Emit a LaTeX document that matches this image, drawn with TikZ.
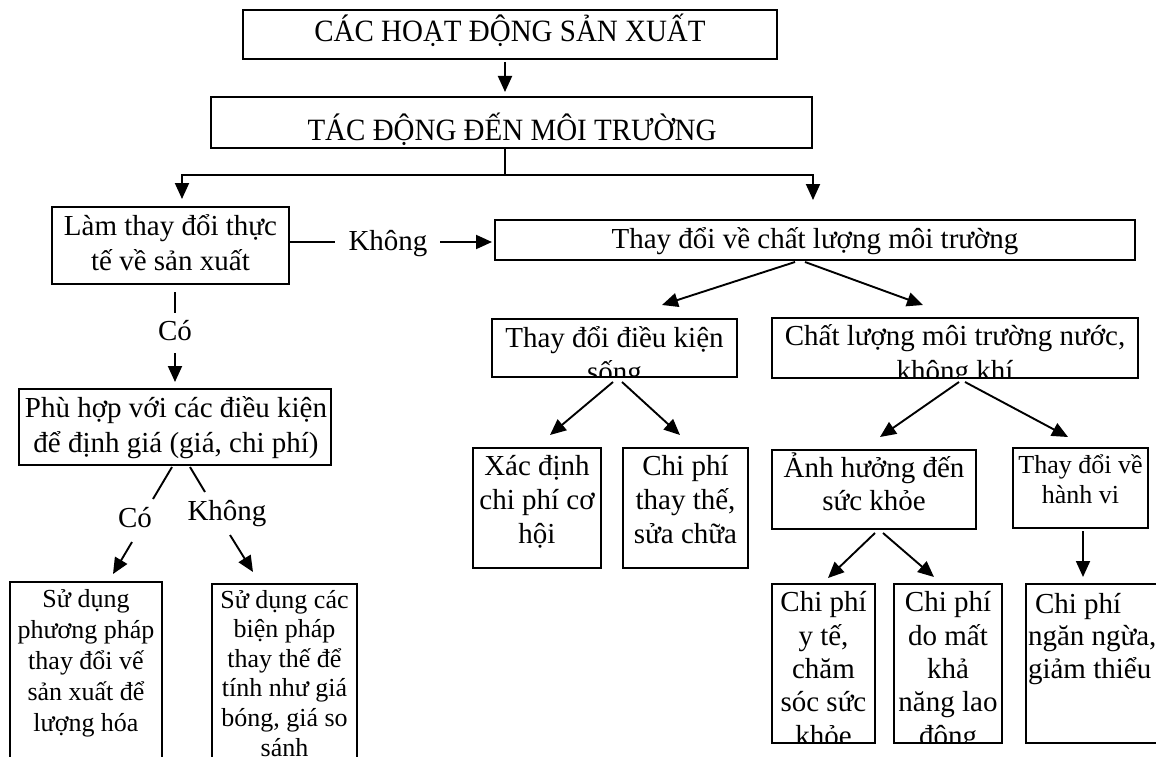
\documentclass[tikz,border=0pt]{standalone}
\usepackage{fontspec}
\usepackage{graphicx}
\setmainfont{Liberation Serif}
\usetikzlibrary{arrows.meta,calc}
\newcommand\fs[2]{\fontsize{#1}{#2}\selectfont}
\tikzset{
  bx/.style={draw, line width=1.4pt, inner sep=0pt, outer sep=0pt},
  txt/.style={anchor=base, align=center, inner sep=0pt, outer sep=0pt},
  ln/.style={line width=1.9pt},
  arr/.style={line width=1.9pt, -{Triangle[length=16pt,width=14pt]}},
}
\newcommand\mkbox[5]{\node[bx, minimum width={#4-#2}, minimum height={#5-#3}] (#1) at ({(#2+#4)/2},{(#3+#5)/2}) {};}
% #1 style, #2 box name, #3 x, #4 baseline of last line, #5 font, #6 text
\newcommand\boxtext[6][txt]{\begin{scope}\clip (#2.south west) rectangle (#2.north east);
  \node[#1, font={#5}] (#2t) at (#3,#4) {#6};\end{scope}}
\begin{document}
\begin{tikzpicture}[x=1pt,y=-1pt]
\useasboundingbox (0,0) rectangle (1156,757);
\clip (0,0) rectangle (1156,757);
% boxes
\mkbox{b1}{243}{10}{777}{59}
\mkbox{b2}{211}{97}{812}{148}
\mkbox{b3}{52}{207}{289}{284}
\mkbox{b4}{495}{220}{1135}{260}
\mkbox{b5}{19}{389}{331}{465}
\mkbox{b6}{10}{582}{162}{800}
\mkbox{b7}{212}{584}{357}{800}
\mkbox{b8}{492}{319}{737}{377}
\mkbox{b9}{772}{318}{1138}{378}
\mkbox{b10}{473}{448}{601}{568}
\mkbox{b11}{623}{448}{748}{568}
\mkbox{b12}{772}{450}{976}{529}
\mkbox{b13}{1013}{448}{1148}{528}
\mkbox{b14}{772}{584}{875}{743}
\mkbox{b15}{894}{584}{1002}{743}
\mkbox{b16}{1026}{584}{1170}{743}
% texts
\boxtext{b1}{510}{42}{\fs{31}{36}}{\scalebox{0.935}[1]{CÁC HOẠT ĐỘNG SẢN XUẤT}}
\boxtext{b2}{512}{140}{\fs{31}{36}}{\scalebox{0.935}[1]{TÁC ĐỘNG ĐẾN MÔI TRƯỜNG}}
\boxtext{b3}{170.5}{270}{\fs{29}{35}}{Làm thay đổi thực\\tế về sản xuất}
\boxtext{b4}{815}{248}{\fs{29}{34}}{Thay đổi về chất lượng môi trường}
\boxtext{b5}{176}{452}{\fs{29}{35}}{Phù hợp với các điều kiện\\để định giá (giá, chi phí)}
\boxtext{b6}{86}{731}{\fs{26}{31}}{Sử dụng\\phương pháp\\thay đổi vế\\sản xuất để\\lượng hóa}
\boxtext{b7}{284.5}{756}{\fs{26}{29.6}}{Sử dụng các\\biện pháp\\thay thế để\\tính như giá\\bóng, giá so\\sánh}
\boxtext{b8}{614.5}{381}{\fs{29}{34}}{Thay đổi điều kiện\\sống}
\boxtext{b9}{955}{380}{\fs{29}{35}}{Chất lượng môi trường nước,\\không khí}
\boxtext{b10}{537}{543}{\fs{29}{34}}{Xác định\\chi phí cơ\\hội}
\boxtext{b11}{685.5}{543}{\fs{29}{34}}{Chi phí\\thay thế,\\sửa chữa}
\boxtext{b12}{874}{510}{\fs{29}{33}}{Ảnh hưởng đến\\sức khỏe}
\boxtext{b13}{1080.5}{503}{\fs{26}{30}}{Thay đổi về\\hành vi}
\boxtext{b14}{823.5}{745}{\fs{29}{33.3}}{Chi phí\\y tế,\\chăm\\sóc sức\\khỏe}
\boxtext{b15}{948}{745}{\fs{29}{33.3}}{Chi phí\\do mất\\khả\\năng lao\\động}
\boxtext[txt,anchor=base west,align=left]{b16}{1028}{678}{\fs{29}{32.5}}{\hspace*{7pt}Chi phí\\ngăn ngừa,\\giảm thiểu}
% labels
\node[txt, font={\fs{29}{34}}] (kh1) at (388,250) {Không};
\node[txt, font={\fs{29}{34}}] (co1) at (175,340) {Có};
\node[txt, font={\fs{29}{34}}] (co2) at (135,527) {Có};
\node[txt, font={\fs{29}{34}}] (kh2) at (227,520) {Không};
% connector points
\coordinate (jn) at (505,175);
\coordinate (jl) at (182,175);
\coordinate (jr) at (813,175);
\coordinate (k1) at (335,242);
\coordinate (k2) at (440,242);
\coordinate (v1) at (175,313);
\coordinate (v2) at (175,353);
\coordinate (d1) at (153,499);
\coordinate (d2) at (132,542);
\coordinate (d3) at (205,492);
\coordinate (d4) at (230,535);
\coordinate (e1) at (1083,531);
% connectors
\draw[arr] ($(b1.south)+(-5,3)$) -- ($(b2.north)+(-6.5,-5)$);
\draw[ln] ($(b2.south)+(-6.5,0)$) -- (jn);
\draw[ln] (jl) -- (jr);
\draw[arr] ([yshift=0.95pt]jl) -- ($(b3.north -| jl)+(0,-8)$);
\draw[arr] ([yshift=0.95pt]jr) -- ($(b4.north -| jr)+(0,-20)$);
\draw[ln] (b3.east |- k1) -- (k1);
\draw[arr] (k2) -- ($(b4.west |- k2)+(-3,0)$);
\draw[ln] ($(b3.south)+(4.5,8)$) -- (v1);
\draw[arr] (v2) -- ($(b5.north -| v2)+(0,-7)$);
\draw[ln] ($(b5.south)+(-3,2)$) -- (d1);
\draw[arr] (d2) -- ($(b6.north)+(27,-8)$);
\draw[ln] ($(b5.south)+(15,2)$) -- (d3);
\draw[arr] (d4) -- ($(b7.north)+(-31.5,-12)$);
\draw[arr] ($(b4.south)+(-20,2)$) -- ($(b8.north)+(47.5,-14)$);
\draw[arr] ($(b4.south)+(-10,2)$) -- ($(b9.north)+(-32,-13)$);
\draw[arr] ($(b8.south)+(-1.5,5)$) -- ($(b10.north)+(13,-13)$);
\draw[arr] ($(b8.south)+(7.5,5)$) -- ($(b11.north)+(-5.5,-13)$);
\draw[arr] ($(b9.south)+(4,4)$) -- ($(b12.north)+(6,-13)$);
\draw[arr] ($(b9.south)+(10,4)$) -- ($(b13.north)+(-12.5,-11)$);
\draw[arr] ($(b12.south)+(1,4)$) -- ($(b14.north)+(4.5,-6)$);
\draw[arr] ($(b12.south)+(9,4)$) -- ($(b15.north)+(-14,-7)$);
\draw[arr] (e1) -- ($(b16.north -| e1)+(0,-7)$);
\end{tikzpicture}
\end{document}
